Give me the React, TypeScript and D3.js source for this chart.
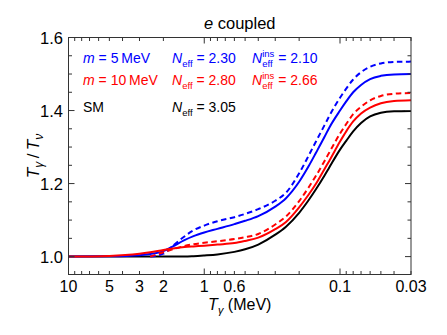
import React, { useEffect, useRef } from "react";
import * as d3 from "d3";

// photon temperature grid (MeV), read along the x axis
const temps = [10, 5, 3, 2.5, 2, 1.7, 1.4, 1.2, 1, 0.8, 0.6, 0.5, 0.4, 0.3, 0.25, 0.2, 0.17, 0.15, 0.13, 0.12, 0.1, 0.09, 0.08, 0.07, 0.06, 0.05, 0.04, 0.03];

// T_gamma / T_nu for each case (null = not drawn)
const blue5 = [1.0, 1.001, 1.004, 1.007, 1.015, 1.028, 1.045, 1.056, 1.066, 1.076, 1.089, 1.098, 1.111, 1.137, 1.16, 1.205, 1.248, 1.285, 1.328, 1.353, 1.4, 1.425, 1.45, 1.47, 1.486, 1.495, 1.499, 1.5];
const blue5Ins = [null, null, null, 1.0, 1.008, 1.03, 1.055, 1.072, 1.085, 1.097, 1.108, 1.117, 1.13, 1.153, 1.175, 1.228, 1.277, 1.316, 1.36, 1.385, 1.435, 1.46, 1.485, 1.505, 1.52, 1.529, 1.533, 1.534];
const red10 = [1.0, 1.002, 1.008, 1.012, 1.018, 1.022, 1.026, 1.028, 1.03, 1.033, 1.037, 1.043, 1.052, 1.075, 1.095, 1.135, 1.17, 1.2, 1.24, 1.262, 1.315, 1.343, 1.37, 1.392, 1.408, 1.42, 1.426, 1.428];
const red10Ins = [null, null, null, 1.0, 1.012, 1.02, 1.029, 1.034, 1.038, 1.042, 1.048, 1.053, 1.062, 1.088, 1.11, 1.152, 1.19, 1.222, 1.262, 1.285, 1.337, 1.363, 1.39, 1.41, 1.428, 1.44, 1.446, 1.448];
const sm = [1, 1, 1, 1, 1, 1, 1, 1.001, 1.003, 1.006, 1.013, 1.02, 1.033, 1.06, 1.082, 1.12, 1.155, 1.185, 1.222, 1.244, 1.293, 1.317, 1.343, 1.366, 1.384, 1.394, 1.398, 1.399];

const xTickLabels = [10, 5, 3, 2, 1, 0.6, 0.1, 0.03];
const yTickLabels = [1.0, 1.2, 1.4, 1.6];

const legendRows = [
  { color: "#0000ff", m: "5", neff: "2.30", ins: "2.10" },
  { color: "#ff0000", m: "10", neff: "2.80", ins: "2.66" },
  { color: "#000000", m: null, neff: "3.05", ins: null },
];

const FONT = "'Liberation Sans', Arial, Helvetica, sans-serif";

const App = () => {
  const svgRef = useRef(null);

  useEffect(() => {
    const width = 447;
    const height = 335;
    const left = 68.5, right = 411, top = 37.5, bottom = 274.5;

    const svg = d3.select(svgRef.current).attr("width", width).attr("height", height);
    svg.selectAll("*").remove();
    svg.style("font-family", FONT);

    const x = d3.scaleLog().domain([10, 0.03]).range([left, right]);
    const y = d3.scaleLinear().domain([0.951, 1.6]).range([bottom, top]);

    // curves
    const line = d3
      .line()
      .defined((d) => d[1] != null)
      .x((d) => x(d[0]))
      .y((d) => y(d[1]))
      .curve(d3.curveMonotoneX);

    const series = [
      { v: sm, color: "#000", dash: null },
      { v: blue5Ins, color: "#0000ff", dash: "5.5,3.5" },
      { v: blue5, color: "#0000ff", dash: null },
      { v: red10Ins, color: "#ff0000", dash: "5.5,3.5" },
      { v: red10, color: "#ff0000", dash: null },
    ];
    const clip = svg.append("clipPath").attr("id", "plotclip");
    clip.append("rect").attr("x", left).attr("y", top).attr("width", right - left).attr("height", bottom - top);
    const g = svg.append("g").attr("clip-path", "url(#plotclip)");
    series.forEach((s) => {
      g.append("path")
        .datum(temps.map((t, i) => [t, s.v[i]]))
        .attr("d", line)
        .attr("fill", "none")
        .attr("stroke", s.color)
        .attr("stroke-width", 2)
        .attr("stroke-dasharray", s.dash);
    });

    // frame
    svg.append("rect")
      .attr("x", left).attr("y", top)
      .attr("width", right - left).attr("height", bottom - top)
      .attr("fill", "none").attr("stroke", "#333").attr("stroke-width", 1);

    // x ticks (log minors)
    const xt = [];
    for (let e = -2; e <= 1; e++) {
      for (let k = 1; k <= 9; k++) {
        const v = k * Math.pow(10, e);
        if (v >= 0.03 - 1e-9 && v <= 10 + 1e-9) xt.push(+v.toPrecision(3));
      }
    }
    xt.forEach((v) => {
      const len = [10, 1, 0.1].includes(v) ? 6 : 3.5;
      const px = x(v);
      svg.append("line").attr("x1", px).attr("x2", px).attr("y1", bottom).attr("y2", bottom - len).attr("stroke", "#333");
      svg.append("line").attr("x1", px).attr("x2", px).attr("y1", top).attr("y2", top + len).attr("stroke", "#333");
    });
    xTickLabels.forEach((v) => {
      svg.append("text")
        .attr("x", x(v)).attr("y", 292)
        .attr("text-anchor", "middle")
        .attr("font-size", 16)
        .text(String(v));
    });

    // y ticks
    d3.range(0, 14).map((i) => +(0.95 + i * 0.05).toFixed(2)).forEach((v) => {
      if (v < 0.951) return;
      const major = Math.abs(v * 5 - Math.round(v * 5)) < 1e-6;
      const len = major ? 6 : 3.5;
      svg.append("line").attr("x1", left).attr("x2", left + len).attr("y1", y(v)).attr("y2", y(v)).attr("stroke", "#333");
      svg.append("line").attr("x1", right).attr("x2", right - len).attr("y1", y(v)).attr("y2", y(v)).attr("stroke", "#333");
    });
    yTickLabels.forEach((v) => {
      svg.append("text")
        .attr("x", 63).attr("y", y(v) + 6)
        .attr("text-anchor", "end")
        .attr("font-size", 16.5)
        .text(v.toFixed(1));
    });

    // title
    const title = svg.append("text").attr("x", (left + right) / 2).attr("y", 29).attr("text-anchor", "middle").attr("font-size", 16.5);
    title.append("tspan").attr("font-style", "italic").text("e");
    title.append("tspan").text(" coupled");

    // x label
    const xl = svg.append("text").attr("x", (left + right) / 2).attr("y", 310).attr("text-anchor", "middle").attr("font-size", 16);
    xl.append("tspan").attr("font-style", "italic").text("T");
    xl.append("tspan").attr("font-size", 11).attr("dy", 4).attr("font-style", "italic").text("γ");
    xl.append("tspan").attr("dy", -4).text(" (MeV)");

    // y label
    const yl = svg.append("text")
      .attr("transform", `translate(39, ${(top + bottom) / 2}) rotate(-90)`)
      .attr("text-anchor", "middle").attr("font-size", 17)
      .style("white-space", "pre");
    yl.append("tspan").attr("font-style", "italic").text("T");
    yl.append("tspan").attr("font-size", 12).attr("dy", 4).attr("font-style", "italic").text("γ");
    yl.append("tspan").attr("dy", -4).text("\u2009/\u2009");
    yl.append("tspan").attr("font-style", "italic").text("T");
    yl.append("tspan").attr("font-size", 12).attr("dy", 4).attr("font-style", "italic").text("ν");

    // annotations: pieces laid out one after another
    const put = (x0, y0, color, pieces) => {
      let cx = x0;
      pieces.forEach((p) => {
        if (p.stack) {
          const a = svg.append("text").attr("x", cx).attr("y", y0 - 6).attr("font-size", 9.5).attr("fill", color).text(p.stack[0]);
          const b = svg.append("text").attr("x", cx).attr("y", y0 + 3.5).attr("font-size", 9.5).attr("fill", color).text(p.stack[1]);
          cx += Math.max(a.node().getComputedTextLength(), b.node().getComputedTextLength());
        } else {
          const t = svg.append("text").attr("x", cx).attr("y", y0 + (p.dy || 0))
            .attr("font-size", p.size || 14).attr("fill", color)
            .attr("font-style", p.italic ? "italic" : null)
            .style("white-space", "pre")
            .text(p.t);
          cx += t.node().getComputedTextLength();
        }
      });
    };

    const rowY = [63, 85, 112];
    legendRows.forEach((r, i) => {
      if (r.m) {
        put(83, rowY[i], r.color, [{ t: "m", italic: true }, { t: " = " + r.m + "\u2009MeV" }]);
      } else {
        put(83, rowY[i], r.color, [{ t: "SM" }]);
      }
      put(172, rowY[i], r.color, [{ t: "N", italic: true }, { t: "eff", size: 9.5, dy: 3.5 }, { t: " = " + r.neff }]);
      if (r.ins) {
        put(252, rowY[i], r.color, [{ t: "N", italic: true }, { stack: ["ins", "eff"] }, { t: " = " + r.ins }]);
      }
    });
  }, []);

  return (
    <svg ref={svgRef} style={{ position: "absolute", left: 0, top: 0, background: "#fff" }}></svg>
  );
};

export default App;
